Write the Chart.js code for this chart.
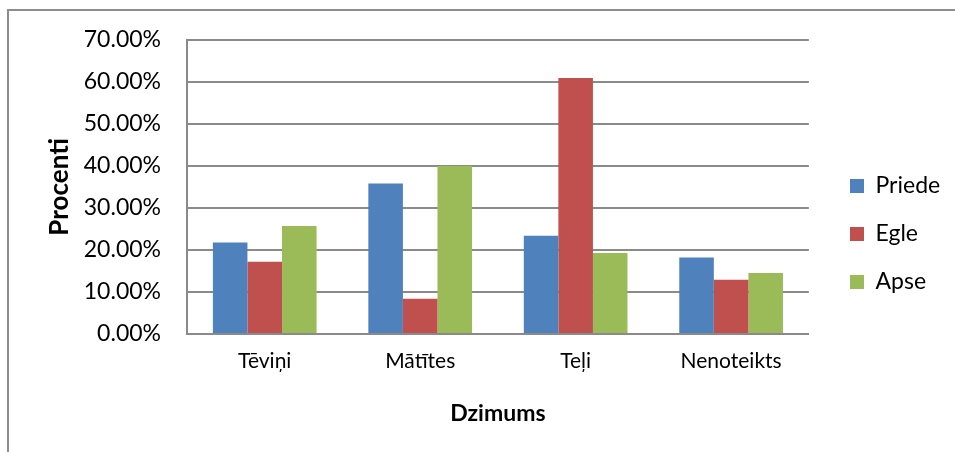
<!DOCTYPE html>
<html>
<head>
<meta charset="utf-8">
<script src="https://cdn.jsdelivr.net/npm/chart.js@4.4.1/dist/chart.umd.min.js"></script>
<style>
    body { margin: 0; background: #fff; overflow: hidden; }
    #wrap { position: relative; width: 955px; height: 452px; }
    #frame { position: absolute; left: 7px; top: 9px; width: 1000px; height: 1000px;
             border-left: 2px solid #8c8c8c; border-top: 2px solid #8c8c8c; }
    #chart { position: absolute; left: 0; top: 0; }
</style>
</head>
<body>
<div id="wrap">
    <div id="frame"></div>
    <canvas id="chart" width="955" height="452"></canvas>
</div>
<script>
/*data*/
let categories = ['Tēviņi', 'Mātītes', 'Teļi', 'Nenoteikts'];
let priede = [21.8, 35.8, 23.4, 18.2];
let egle = [17.2, 8.4, 60.9, 12.9];
let apse = [25.7, 40.0, 19.3, 14.5];
let yTicks = [0, 10, 20, 30, 40, 50, 60, 70];
/**/

let gridColor = '#8a8a8a';
let fontName = 'Lato, "Open Sans", sans-serif';

// legend sits a bit away from the plot, like in the sheet
let legendShift = {
    id: 'legendShift',
    afterLayout(chart) {
        let lg = chart.legend;
        lg.left = 825;
        lg.right = 955;
        lg.width = lg.right - lg.left;
        lg.top = 16;
    }
};

window.onload = function() {
    let ctx = document.getElementById('chart');

    new Chart(ctx, {
        type: 'bar',
        data: {
            labels: categories,
            datasets: [
                { label: 'Priede', data: priede, backgroundColor: '#4F81BD' },
                { label: 'Egle', data: egle, backgroundColor: '#C0504D' },
                { label: 'Apse', data: apse, backgroundColor: '#9BBB59' }
            ]
        },
        options: {
            responsive: false,
            animation: false,
            categoryPercentage: 0.667,
            barPercentage: 1,
            layout: {
                padding: { top: 39, right: 21, bottom: 0, left: 0 }
            },
            scales: {
                x: {
                    grid: { display: false, drawTicks: false },
                    border: { display: true, color: gridColor, width: 2 },
                    ticks: {
                        color: '#000',
                        padding: 15,
                        font: { family: fontName, size: 21 }
                    },
                    title: {
                        display: true,
                        text: 'Dzimums',
                        color: '#000',
                        padding: { top: 0, bottom: 25 },
                        font: { family: fontName, size: 23, weight: 'bold' }
                    },
                    afterFit(scale) {
                        scale.height = 118;
                    }
                },
                y: {
                    min: 0,
                    max: 70,
                    afterBuildTicks(scale) {
                        scale.ticks = yTicks.map(v => ({ value: v }));
                    },
                    grid: { color: gridColor, lineWidth: 2, drawTicks: false },
                    border: { display: true, color: gridColor, width: 2 },
                    ticks: {
                        color: '#000',
                        padding: 26,
                        font: { family: fontName, size: 23 },
                        callback: v => v.toFixed(2) + '%'
                    },
                    title: {
                        display: true,
                        text: 'Procenti',
                        color: '#000',
                        padding: { top: 44, bottom: 0 },
                        font: { family: fontName, size: 26, weight: 'bold' }
                    },
                    afterFit(scale) {
                        scale.width = 187;
                    }
                }
            },
            plugins: {
                legend: {
                    position: 'right',
                    labels: {
                        color: '#000',
                        boxWidth: 14,
                        boxHeight: 14,
                        padding: 25,
                        font: { family: fontName, size: 23 }
                    }
                },
                tooltip: { enabled: false }
            }
        },
        plugins: [legendShift]
    });
}
</script>
</body>
</html>
